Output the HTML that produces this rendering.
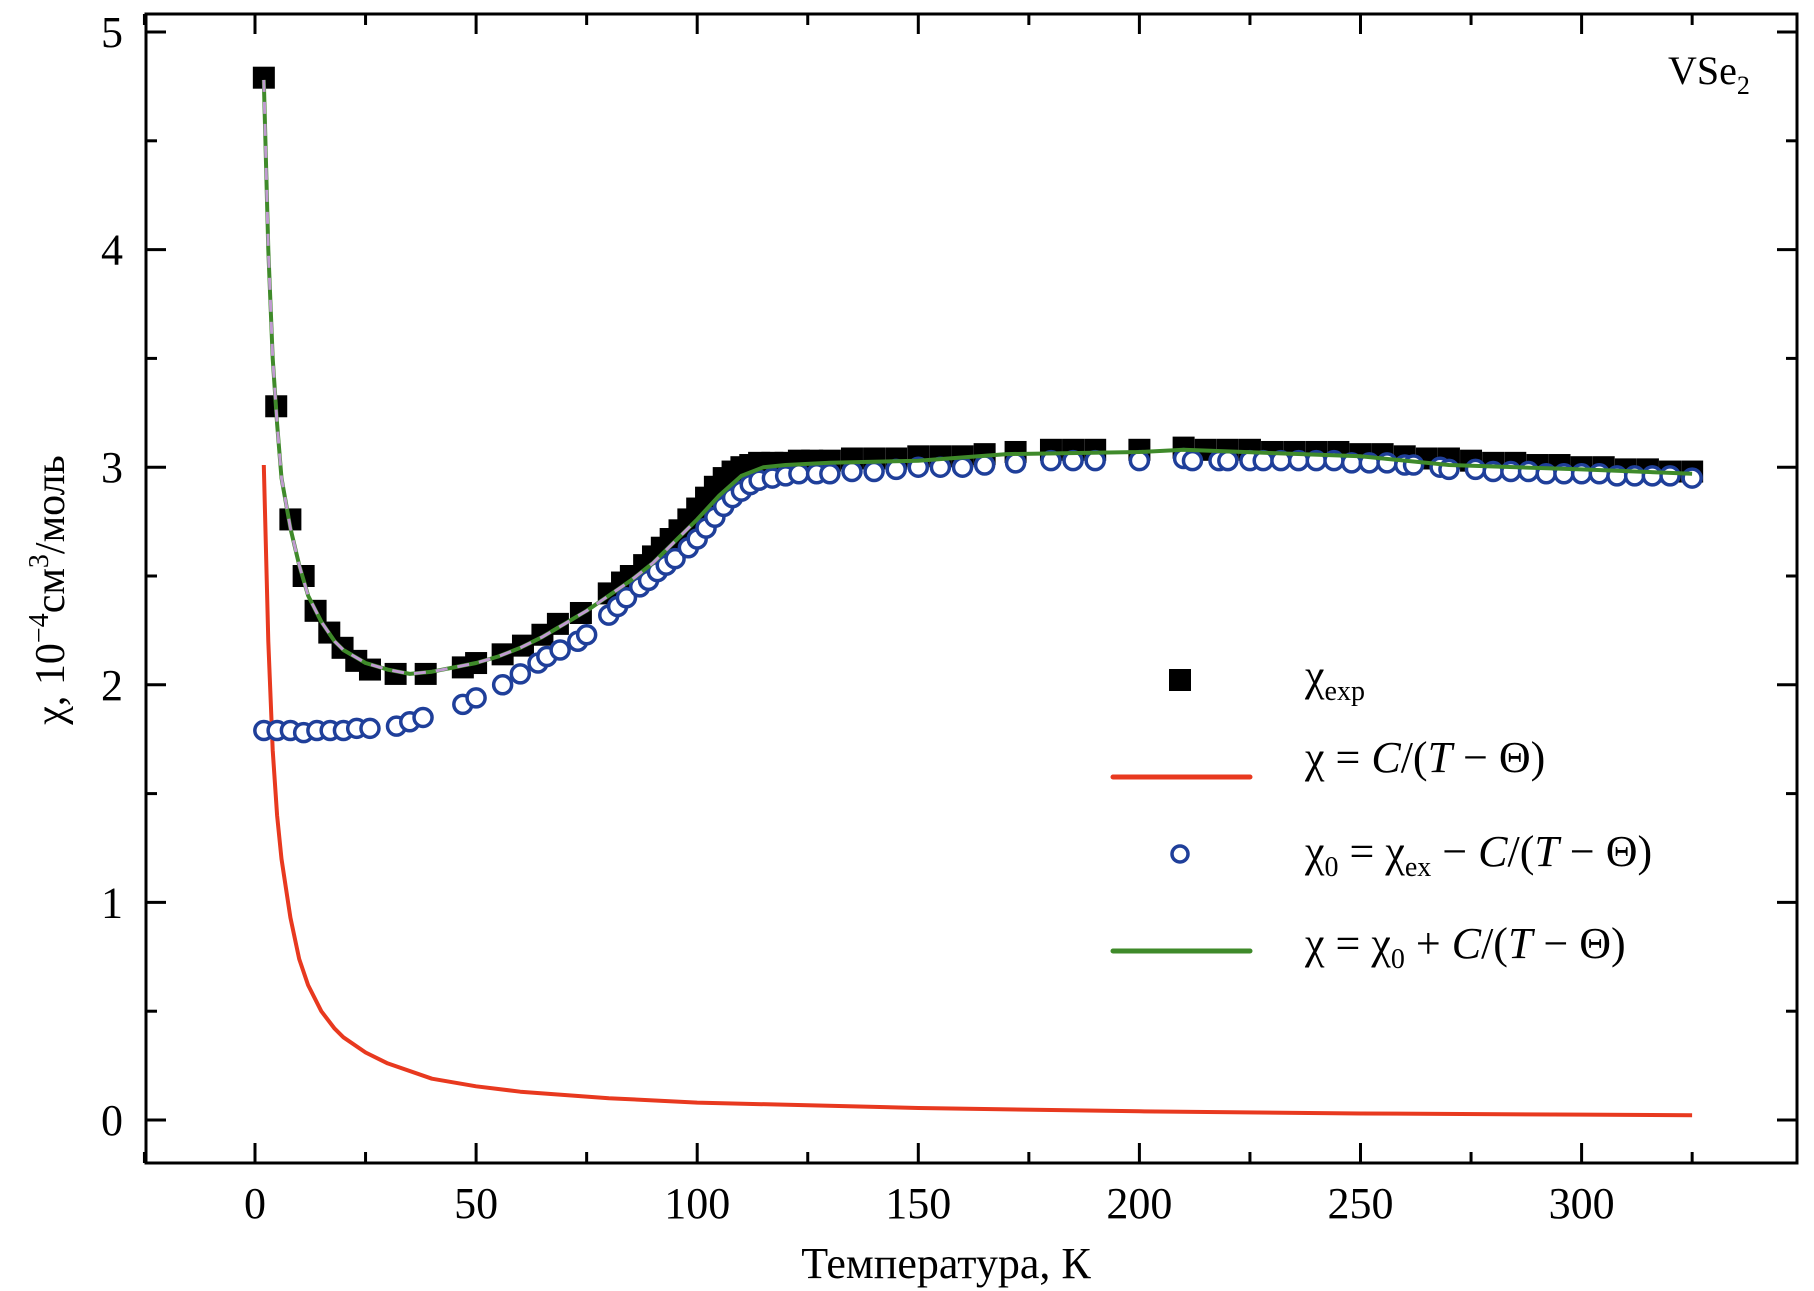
<!DOCTYPE html>
<html><head><meta charset="utf-8"><style>
html,body{margin:0;padding:0;background:#fff}
svg{display:block;font-family:"Liberation Serif",serif}
</style></head><body>
<svg id="chart" width="1814" height="1291" viewBox="0 0 1814 1291" xmlns="http://www.w3.org/2000/svg">
<rect x="146" y="14" width="1651" height="1149" fill="none" stroke="#000" stroke-width="3"/>
<g id="ticks"></g>
<g id="series"></g>
<text x="946" y="1278" font-size="44" text-anchor="middle">Температура, К</text>
<text transform="translate(64,590) rotate(-90)" font-size="42" text-anchor="middle">χ, 10<tspan dy="-16" font-size="28">−4</tspan><tspan dy="16">см</tspan><tspan dy="-16" font-size="28">3</tspan><tspan dy="16">/моль</tspan></text>
<text x="1668" y="84" font-size="40">VSe<tspan dy="10" font-size="26">2</tspan></text>
<g font-size="44">
 <rect x="1169" y="669" width="22" height="22" fill="#000"/>
 <text x="1305" y="690">χ<tspan dy="10" font-size="28">exp</tspan></text>
 <line x1="1113" y1="777" x2="1250" y2="777" stroke="#e8391f" stroke-width="5" stroke-linecap="round"/>
 <text x="1305" y="772">χ = <tspan font-style="italic">C</tspan>/(<tspan font-style="italic">T</tspan> − Θ)</text>
 <circle cx="1180" cy="854" r="8" fill="none" stroke="#1f3f9a" stroke-width="3.5"/>
 <text x="1305" y="866">χ<tspan dy="10" font-size="28">0</tspan><tspan dy="-10"> = χ</tspan><tspan dy="10" font-size="28">ex</tspan><tspan dy="-10"> − </tspan><tspan font-style="italic">C</tspan>/(<tspan font-style="italic">T</tspan> − Θ)</text>
 <line x1="1113" y1="951" x2="1250" y2="951" stroke="#3f8a2a" stroke-width="5" stroke-linecap="round"/>
 <text x="1305" y="958">χ = χ<tspan dy="10" font-size="28">0</tspan><tspan dy="-10"> + </tspan><tspan font-style="italic">C</tspan>/(<tspan font-style="italic">T</tspan> − Θ)</text>
</g>
</svg>
<script>
const xTicks=[0,50,100,150,200,250,300];
const yTicks=[0,1,2,3,4,5];
const expT=[2,4.8,8,11,13.7,16.8,19.8,22.9,26,31.8,38.6,47,50,56,60.6,65,68.5,73.7,80,83,85,88,90,92,94,96,98,100,102,104,106,108,110,112,114,117,120,123,126,130,135,140,145,150,155,160,165,172,180,185,190,200,210,215,220,225,230,235,240,245,250,255,260,265,270,275,280,285,290,295,300,305,310,315,320,325];
const expV=[4.79,3.28,2.76,2.5,2.34,2.24,2.17,2.11,2.07,2.05,2.05,2.08,2.1,2.14,2.18,2.23,2.28,2.33,2.42,2.47,2.5,2.55,2.59,2.63,2.67,2.71,2.76,2.81,2.86,2.91,2.95,2.98,3.0,3.01,3.02,3.02,3.02,3.03,3.03,3.03,3.04,3.04,3.04,3.05,3.05,3.05,3.06,3.07,3.08,3.08,3.08,3.08,3.09,3.08,3.08,3.08,3.07,3.07,3.07,3.07,3.06,3.06,3.05,3.04,3.04,3.03,3.02,3.02,3.01,3.01,3.0,3.0,2.99,2.99,2.98,2.98];
const chi0T=[2,5,8,11,14,17,20,23,26,32,35,38,47,50,56,60,64,66,69,73,75,80,82,84,87,89,91,93,95,98,100,102,104,106,108,110,112,114,117,120,123,127,130,135,140,145,150,155,160,165,172,180,185,190,200,210,212,218,220,225,228,232,236,240,244,248,252,256,260,262,268,270,276,280,284,288,292,296,300,304,308,312,316,320,325];
const chi0V=[1.79,1.79,1.79,1.78,1.79,1.79,1.79,1.8,1.8,1.81,1.83,1.85,1.91,1.94,2.0,2.05,2.1,2.13,2.16,2.2,2.23,2.32,2.36,2.4,2.45,2.48,2.52,2.55,2.58,2.63,2.67,2.72,2.77,2.82,2.86,2.89,2.92,2.94,2.95,2.96,2.97,2.97,2.97,2.98,2.98,2.99,3.0,3.0,3.0,3.01,3.02,3.03,3.03,3.03,3.03,3.04,3.03,3.03,3.03,3.03,3.03,3.03,3.03,3.03,3.03,3.02,3.02,3.02,3.01,3.01,3.0,2.99,2.99,2.98,2.98,2.98,2.97,2.97,2.97,2.97,2.96,2.96,2.96,2.96,2.95];
const curieT=[2,3,4,5,6,8,10,12,15,18,20,25,30,40,50,60,80,100,150,200,250,300,325];
const curieV=[3.01,2.2,1.7,1.4,1.2,0.93,0.74,0.62,0.5,0.42,0.38,0.31,0.26,0.19,0.155,0.13,0.1,0.08,0.055,0.04,0.03,0.025,0.022];
const fitT=[2,3,4,5,6,8,10,12,15,18,20,25,30,35,40,45,50,55,60,65,70,75,80,85,90,95,100,105,110,115,120,130,150,170,200,210,250,270,300,325];
const fitV=[4.78,4.0,3.5,3.2,2.95,2.72,2.55,2.41,2.29,2.2,2.16,2.1,2.07,2.05,2.06,2.08,2.1,2.13,2.17,2.22,2.28,2.34,2.41,2.48,2.56,2.66,2.76,2.87,2.96,3.0,3.01,3.02,3.03,3.06,3.07,3.08,3.05,3.01,2.99,2.97];

const NS='http://www.w3.org/2000/svg';
const X0=146,X1=1797,Y0=14,Y1=1163;
function sx(t){return 255+t*4.422;}
function sy(v){return 1120-v*217.6;}
const tg=document.getElementById('ticks');
const sg=document.getElementById('series');
function mk(tag,attrs,parent){const e=document.createElementNS(NS,tag);for(const k in attrs)e.setAttribute(k,attrs[k]);parent.appendChild(e);return e;}

xTicks.forEach(t=>{
  const x=sx(t);
  const a=mk('line',{x1:x,y1:Y1,x2:x,y2:Y1-20,stroke:'#000','stroke-width':3},tg);
  
  
  const b=mk('line',{x1:x,y1:Y0,x2:x,y2:Y0+20,stroke:'#000','stroke-width':3},tg);
  
  
  const m=sx(t+25);
  const c=mk('line',{x1:m,y1:Y1,x2:m,y2:Y1-11,stroke:'#000','stroke-width':3},tg);
  
  
  const d=mk('line',{x1:m,y1:Y0,x2:m,y2:Y0+11,stroke:'#000','stroke-width':3},tg);
  
  
  const l=mk('text',{x:x,y:1218,'font-size':44,'text-anchor':'middle'},tg);
  l.textContent=t;
  
  
});
const m0=sx(-25);
const c0=mk('line',{x1:m0,y1:Y1,x2:m0,y2:Y1-11,stroke:'#000','stroke-width':3},tg);


const d0=mk('line',{x1:m0,y1:Y0,x2:m0,y2:Y0+11,stroke:'#000','stroke-width':3},tg);


yTicks.forEach(v=>{
  const y=sy(v);
  const a=mk('line',{x1:X0,y1:y,x2:X0+20,y2:y,stroke:'#000','stroke-width':3},tg);
  
  
  const b=mk('line',{x1:X1,y1:y,x2:X1-20,y2:y,stroke:'#000','stroke-width':3},tg);
  
  
  if(v<5){
    const my=sy(v+0.5);
    const c=mk('line',{x1:X0,y1:my,x2:X0+11,y2:my,stroke:'#000','stroke-width':3},tg);
    
    
    const d=mk('line',{x1:X1,y1:my,x2:X1-11,y2:my,stroke:'#000','stroke-width':3},tg);
    
    
  }
  const l=mk('text',{x:112,y:y+15,'font-size':44,'text-anchor':'middle'},tg);
  l.textContent=v;
  
  
});
function pts(T,V){return T.map((t,i)=>sx(t).toFixed(1)+','+sy(V[i]).toFixed(1)).join(' ');}

const red=mk('polyline',{points:pts(curieT,curieV),fill:'none',stroke:'#e8391f','stroke-width':4,'stroke-linejoin':'round'},sg);



expT.forEach((t,i)=>{
  const r=mk('rect',{x:sx(t)-11,y:sy(expV[i])-11,width:22,height:22,fill:'#000'},sg);
  
  
});
chi0T.forEach((t,i)=>{
  const c=mk('circle',{cx:sx(t),cy:sy(chi0V[i]),r:9,fill:'#fff',stroke:'#1f3f9a','stroke-width':3.5},sg);
  
  
});
const green=mk('polyline',{points:pts(fitT,fitV),fill:'none',stroke:'#3f8a2a','stroke-width':4,'stroke-linejoin':'round'},sg);


const lil=mk('polyline',{points:pts(fitT.slice(0,27),fitV.slice(0,27)),fill:'none',stroke:'#c09ad0','stroke-width':3,'stroke-dasharray':'12 10'},sg);


</script>
</body></html>
